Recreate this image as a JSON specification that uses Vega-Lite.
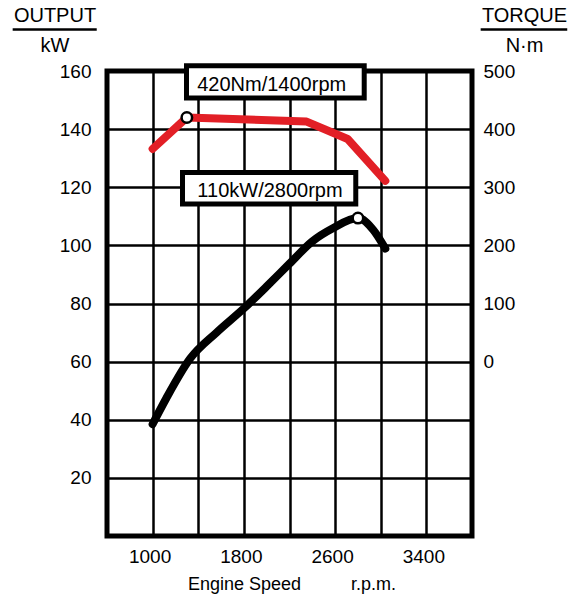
{
  "$schema": "https://vega.github.io/schema/vega-lite/v6.json",
  "width": 365,
  "height": 465,
  "autosize": {"type": "none"},
  "padding": {"left": 107, "top": 71, "right": 109, "bottom": 59},
  "background": "white",
  "config": {
    "font": "Liberation Sans",
    "view": {"stroke": "black", "strokeWidth": 5},
    "axis": {
      "domain": false,
      "ticks": false,
      "tickSize": 0,
      "labelFont": "Liberation Sans",
      "labelFontSize": 19,
      "labelColor": "black",
      "titleFont": "Liberation Sans",
      "titleFontWeight": "normal",
      "titleColor": "black",
      "gridColor": "black",
      "gridWidth": 2.5,
      "gridOpacity": 1
    }
  },
  "datasets": {
    "output": [
      {"rpm": 1000, "output": 38.5},
      {"rpm": 1120, "output": 47.4},
      {"rpm": 1330, "output": 61.1},
      {"rpm": 1560, "output": 70.0},
      {"rpm": 1800, "output": 78.3},
      {"rpm": 2000, "output": 85.9},
      {"rpm": 2200, "output": 93.7},
      {"rpm": 2400, "output": 101.4},
      {"rpm": 2580, "output": 105.9},
      {"rpm": 2800, "output": 109.4},
      {"rpm": 2935, "output": 105.3},
      {"rpm": 3040, "output": 98.9}
    ],
    "torque": [
      {"rpm": 1000, "torque": 366},
      {"rpm": 1300, "torque": 420},
      {"rpm": 2350, "torque": 413},
      {"rpm": 2710, "torque": 383},
      {"rpm": 3040, "torque": 311}
    ],
    "outputPeak": [{"rpm": 2800, "output": 109.4}],
    "torquePeak": [{"rpm": 1300, "torque": 420}],
    "boxes": [
      {"label": "420Nm/1400rpm", "rpm_a": 1297, "rpm_b": 2855, "out_a": 150.7, "out_b": 161.8, "rpm_text": 2044, "out_text": 153.2},
      {"label": "110kW/2800rpm", "rpm_a": 1262, "rpm_b": 2781, "out_a": 114.2, "out_b": 125.1, "rpm_text": 2029, "out_text": 116.8}
    ],
    "underlines": [
      {"rpm_a": -227, "rpm_b": 510, "out": 174.3},
      {"rpm_a": 3876, "rpm_b": 4635, "out": 174.3}
    ]
  },
  "layer": [
    {
      "layer": [
        {
          "data": {"name": "output"},
          "mark": {"type": "line", "color": "black", "strokeWidth": 8, "strokeCap": "round", "strokeJoin": "round", "interpolate": "monotone"},
          "encoding": {
            "x": {
              "field": "rpm", "type": "quantitative",
              "title": "Engine Speed\u00a0\u00a0\u00a0\u00a0\u00a0\u00a0\u00a0\u00a0\u00a0\u00a0r.p.m.",
              "scale": {"domain": [600, 3800], "nice": false, "zero": false},
              "axis": {
                "values": [1000, 1400, 1800, 2200, 2600, 3000, 3400],
                "format": "d",
                "labelExpr": "datum.value % 800 == 200 ? datum.label : ''",
                "grid": true,
                "labelPadding": 11,
                "labelOffset": -3,
                "labelFlush": false,
                "labelOverlap": false,
                "titleFontSize": 18,
                "titleX": 184.5,
                "titleY": 53,
                "titleAlign": "center",
                "titleBaseline": "alphabetic"
              }
            },
            "y": {
              "field": "output", "type": "quantitative",
              "title": ["OUTPUT", "kW"],
              "scale": {"domain": [0, 160], "nice": false, "zero": false},
              "axis": {
                "values": [20, 40, 60, 80, 100, 120, 140, 160],
                "format": "d",
                "grid": true,
                "labelPadding": 16,
                "labelBaseline": "middle",
                "titleAngle": 0,
                "titleAlign": "center",
                "titleBaseline": "alphabetic",
                "titleX": -52.5,
                "titleY": -49.3,
                "titleFontSize": 20,
                "titleLineHeight": 30
              }
            }
          }
        },
        {
          "data": {"name": "outputPeak"},
          "mark": {"type": "point", "shape": "circle", "filled": true, "fill": "white", "stroke": "black", "strokeWidth": 2.5, "size": 110, "opacity": 1},
          "encoding": {
            "x": {"field": "rpm", "type": "quantitative"},
            "y": {"field": "output", "type": "quantitative"}
          }
        },
        {
          "data": {"name": "underlines"},
          "mark": {"type": "rule", "color": "black", "strokeWidth": 2.5, "clip": false},
          "encoding": {
            "x": {"field": "rpm_a", "type": "quantitative"},
            "x2": {"field": "rpm_b"},
            "y": {"field": "out", "type": "quantitative"}
          }
        },
        {
          "data": {"name": "boxes"},
          "mark": {"type": "rect", "fill": "white", "stroke": "black", "strokeWidth": 5, "clip": false},
          "encoding": {
            "x": {"field": "rpm_a", "type": "quantitative"},
            "x2": {"field": "rpm_b"},
            "y": {"field": "out_a", "type": "quantitative"},
            "y2": {"field": "out_b"}
          }
        },
        {
          "data": {"name": "boxes"},
          "mark": {"type": "text", "font": "Liberation Sans", "fontSize": 20, "color": "black", "align": "center", "baseline": "alphabetic", "clip": false},
          "encoding": {
            "x": {"field": "rpm_text", "type": "quantitative"},
            "y": {"field": "out_text", "type": "quantitative"},
            "text": {"field": "label", "type": "nominal"}
          }
        }
      ]
    },
    {
      "layer": [
        {
          "data": {"name": "torque"},
          "mark": {"type": "line", "color": "#e21f26", "strokeWidth": 8, "strokeCap": "round", "strokeJoin": "round"},
          "encoding": {
            "x": {"field": "rpm", "type": "quantitative"},
            "y": {
              "field": "torque", "type": "quantitative",
              "title": ["TORQUE", "N·m"],
              "scale": {"domain": [-300, 500], "nice": false, "zero": false},
              "axis": {
                "orient": "right",
                "values": [0, 100, 200, 300, 400, 500],
                "format": "d",
                "grid": false,
                "labelPadding": 11,
                "labelBaseline": "middle",
                "titleAngle": 0,
                "titleAlign": "center",
                "titleBaseline": "alphabetic",
                "titleX": 52,
                "titleY": -49.3,
                "titleFontSize": 20,
                "titleLineHeight": 30
              }
            }
          }
        },
        {
          "data": {"name": "torquePeak"},
          "mark": {"type": "point", "shape": "circle", "filled": true, "fill": "white", "stroke": "black", "strokeWidth": 2.5, "size": 110, "opacity": 1},
          "encoding": {
            "x": {"field": "rpm", "type": "quantitative"},
            "y": {"field": "torque", "type": "quantitative"}
          }
        }
      ]
    }
  ],
  "resolve": {"scale": {"y": "independent"}}
}
